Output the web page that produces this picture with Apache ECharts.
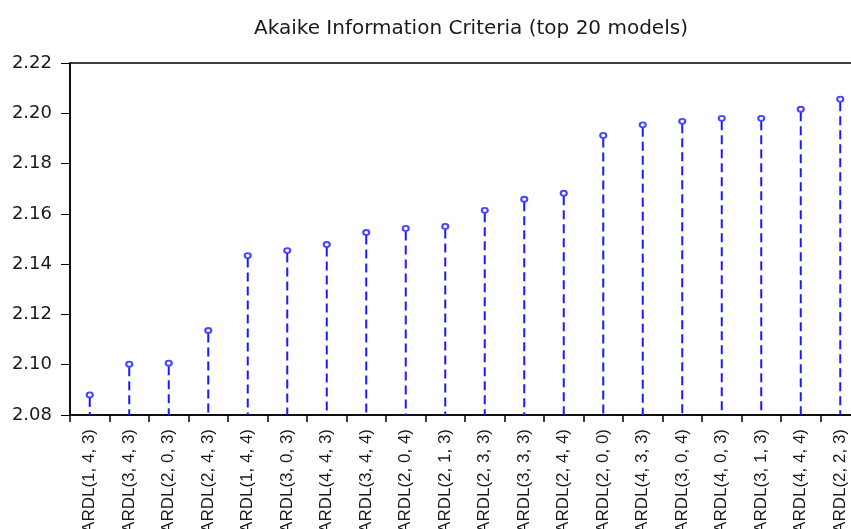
<!DOCTYPE html>
<html>
<head>
<meta charset="utf-8">
<script src="https://cdn.jsdelivr.net/npm/echarts@6/dist/echarts.min.js"></script>
<style>
  html, body { margin: 0; padding: 0; background: #fff; }
  #chart { width: 851px; height: 529px; }
</style>
</head>
<body>
<div id="chart"></div>
<script>
const models = [
  "ARDL(1, 4, 3)", "ARDL(3, 4, 3)", "ARDL(2, 0, 3)", "ARDL(2, 4, 3)", "ARDL(1, 4, 4)",
  "ARDL(3, 0, 3)", "ARDL(4, 4, 3)", "ARDL(3, 4, 4)", "ARDL(2, 0, 4)", "ARDL(2, 1, 3)",
  "ARDL(2, 3, 3)", "ARDL(3, 3, 3)", "ARDL(2, 4, 4)", "ARDL(2, 0, 0)", "ARDL(4, 3, 3)",
  "ARDL(3, 0, 4)", "ARDL(4, 0, 3)", "ARDL(3, 1, 3)", "ARDL(4, 4, 4)", "ARDL(2, 2, 3)"
];
const aicValues = [
  2.0880, 2.1002, 2.1006, 2.1136, 2.1434,
  2.1454, 2.1478, 2.1526, 2.1542, 2.1550,
  2.1614, 2.1658, 2.1682, 2.1912, 2.1954,
  2.1968, 2.1980, 2.1980, 2.2016, 2.2056
];
const yMin = 2.08, yMax = 2.22, yStep = 0.02;

const blue = "#1a1aff";
const wideFont = "'DejaVu Sans', Verdana, sans-serif";
const font = "'Liberation Sans', Arial, sans-serif";

const chart = echarts.init(document.getElementById("chart"), null, { renderer: "canvas" });

chart.setOption({
  backgroundColor: "#fff",
  animation: false,
  title: {
    text: "Akaike Information Criteria (top 20 models)",
    left: 466,
    textAlign: "center",
    top: 14,
    textStyle: { color: "#1a1a1a", fontSize: 20, fontWeight: "normal", fontFamily: wideFont }
  },
  grid: {
    left: 70, right: -9, top: 63, bottom: 114,
    outerBoundsMode: "none",
    containLabel: false,
    show: true, borderColor: "#000", borderWidth: 1.5, backgroundColor: "transparent"
  },
  xAxis: {
    type: "category",
    data: models,
    boundaryGap: true,
    axisLine: { lineStyle: { color: "#000", width: 1.5 } },
    axisTick: { show: true, alignWithLabel: false, length: 7, lineStyle: { color: "#000", width: 1.5 } },
    axisLabel: {
      rotate: 90, interval: 0, margin: 14,
      color: "#1a1a1a", fontSize: 17, fontFamily: font
    }
  },
  yAxis: {
    type: "value",
    min: yMin, max: yMax, interval: yStep,
    axisLine: { show: true, lineStyle: { color: "#000", width: 1.5 } },
    axisTick: { show: true, length: 9, lineStyle: { color: "#000" } },
    splitLine: { show: false },
    axisLabel: {
      color: "#1a1a1a", fontSize: 18, fontFamily: wideFont, margin: 18,
      formatter: (v) => v.toFixed(2)
    }
  },
  series: [
    {
      type: "custom",
      data: aicValues.map((v, i) => [i, v]),
      renderItem: (params, api) => {
        const top = api.coord([api.value(0), api.value(1)]);
        const base = api.coord([api.value(0), yMin]);
        return {
          type: "line",
          shape: { x1: top[0], y1: top[1] + 3, x2: base[0], y2: base[1] },
          style: { stroke: blue, lineWidth: 2, lineDash: [9, 5] }
        };
      },
      z: 2
    },
    {
      type: "scatter",
      data: aicValues.map((v, i) => [i, v]),
      symbol: "emptyCircle",
      symbolSize: [6, 5],
      itemStyle: { color: blue, borderColor: blue, borderWidth: 1.5 },
      z: 3
    }
  ]
});
</script>
</body>
</html>
